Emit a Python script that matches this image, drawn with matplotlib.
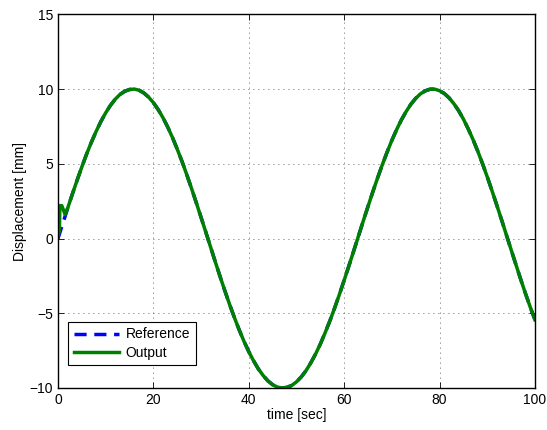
import matplotlib
matplotlib.use("Agg")
import matplotlib.pyplot as plt

plt.rcParams['font.family'] = ['Liberation Sans', 'DejaVu Sans']

time = list(range(0, 101))
reference = [0.00, 1.00, 1.99, 2.96, 3.89, 4.79, 5.65, 6.44, 7.17, 7.83,
             8.41, 8.91, 9.32, 9.64, 9.85, 9.97, 10.00, 9.92, 9.74, 9.46,
             9.09, 8.63, 8.09, 7.46, 6.76, 5.98, 5.16, 4.27, 3.35, 2.39,
             1.41, 0.42, -0.58, -1.58, -2.56, -3.51, -4.43, -5.30, -6.12, -6.88,
             -7.57, -8.18, -8.72, -9.16, -9.52, -9.78, -9.94, -10.00, -9.96, -9.83,
             -9.59, -9.26, -8.84, -8.32, -7.73, -7.06, -6.31, -5.51, -4.65, -3.74,
             -2.79, -1.82, -0.83, 0.17, 1.17, 2.15, 3.12, 4.05, 4.94, 5.78,
             6.57, 7.29, 7.94, 8.50, 8.99, 9.38, 9.68, 9.88, 9.99, 9.99,
             9.89, 9.70, 9.41, 9.02, 8.55, 7.99, 7.34, 6.63, 5.85, 5.01,
             4.12, 3.19, 2.23, 1.25, 0.25, -0.75, -1.74, -2.72, -3.67, -4.58,
             -5.44]

output_time = [0.0, 0.3, 0.4, 0.8, 1.5, 2.0] + list(range(3, 101))
output = [0.2, 0.5, 2.2, 2.2, 1.6, 2.0] + reference[3:]

fig = plt.figure(figsize=(5.47, 4.30), dpi=100)
ax = fig.add_axes([0.106, 0.0977, 0.872, 0.869])

ax.plot(time, reference, color='#0000ff', linestyle='--', linewidth=2.5,
        dashes=(3.5, 2.2), label='Reference')
ax.plot(output_time, output, color='#008000', linewidth=2.5, label='Output')

ax.set_xlim(0, 100)
ax.set_ylim(-10, 15)
ax.set_xticks([0, 20, 40, 60, 80, 100])
ax.set_yticks([-10, -5, 0, 5, 10, 15])
ax.set_yticklabels(['\u221210', '\u22125', '0', '5', '10', '15'])
ax.grid(True, color='#333333', linestyle=(0, (1, 5)), linewidth=0.6)
ax.tick_params(direction='in', length=4, labelsize=10, top=True, right=True, width=0.6)
for s in ax.spines.values():
    s.set_linewidth(1.0)

ax.set_xlabel('time [sec]', fontsize=10, labelpad=1)
ax.set_ylabel('Displacement [mm]', fontsize=10, labelpad=2)

leg = ax.legend(loc='lower left', bbox_to_anchor=(0.021, 0.061), fontsize=10,
                fancybox=False, framealpha=1, edgecolor='black',
                handlelength=3.3, borderpad=0.4, labelspacing=0.3,
                handletextpad=0.45, borderaxespad=0)
leg.get_frame().set_linewidth(0.8)

fig.savefig('out.png', dpi=100)
